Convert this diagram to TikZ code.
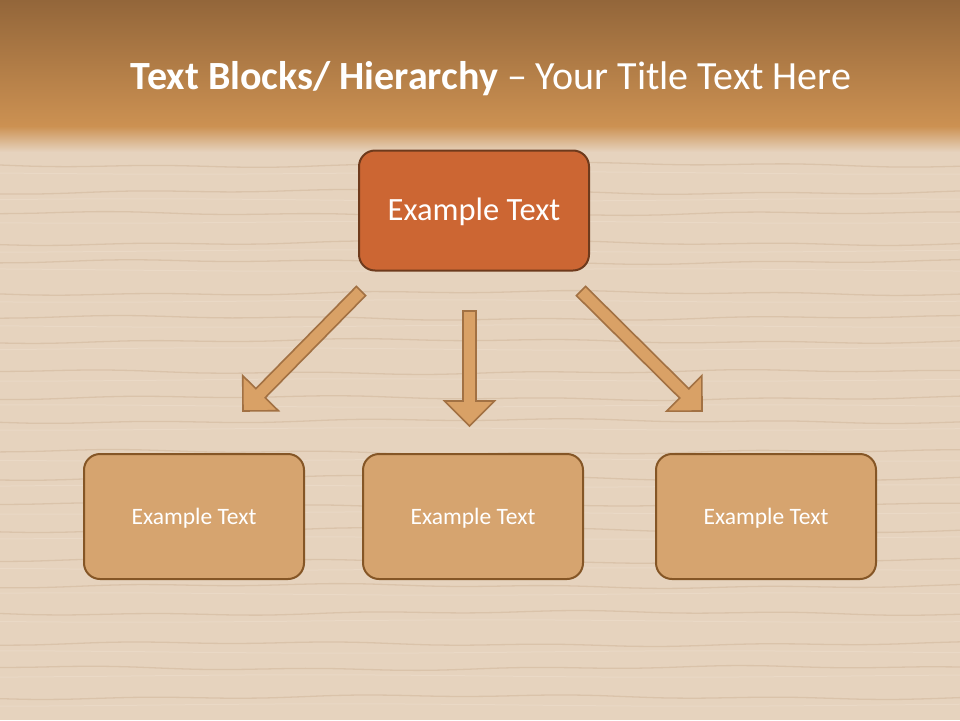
\documentclass[tikz,border=0pt]{standalone}
\usepackage{fontspec}
\setmainfont{Carlito}
\usetikzlibrary{calc}
\definecolor{bgbeige}{HTML}{E6D3BE}
\definecolor{grain}{HTML}{D5BDA2}
\definecolor{grainlight}{HTML}{EEDFCE}
\definecolor{headtop}{HTML}{93663A}
\definecolor{headbot}{HTML}{CC9152}
\definecolor{topfill}{HTML}{CC6633}
\definecolor{topedge}{HTML}{6E3A1C}
\definecolor{boxfill}{HTML}{D6A46F}
\definecolor{boxedge}{HTML}{855626}
\definecolor{arrfill}{HTML}{D9A166}
\definecolor{arredge}{HTML}{A27143}
\tikzset{
  topbox/.style={draw=topedge, line width=2pt, fill=topfill, rounded corners=16pt,
    minimum width=230pt, minimum height=120pt, text=white, font=\fontsize{32.5}{36}\selectfont,
    text height=20.9pt, text depth=0pt},
  lowbox/.style={draw=boxedge, line width=2pt, fill=boxfill, rounded corners=16pt,
    minimum width=220pt, minimum height=125pt, text=white, font=\fontsize{23.5}{28}\selectfont,
    text height=15.1pt, text depth=0pt},
  blockarrow/.style={draw=arredge, line width=1.6pt, fill=arrfill, line join=miter},
  grainline/.style={grain, line width=1.3pt, opacity=0.7},
}
\begin{document}
\begin{tikzpicture}[x=1pt,y=-1pt]
\useasboundingbox (0,0) rectangle (960,720);
% background
\fill[bgbeige] (0,0) rectangle (960,720);
% wood grain
\foreach \yy/\ph in {165/0,192/40,214/80,243/20,262/60,293/10,318/70,341/30,372/90,398/50,421/15,452/75,478/35,505/85,530/25,561/65,586/45,613/5,644/55,668/95,697/20}{
  \draw[grainline] plot[domain=0:960, samples=30, smooth] (\x, {\yy + 1.5*sin(\x*0.45 + \ph*3) + 1*sin(\x*1.7+\ph)});
  \draw[grainlight, line width=1pt, opacity=0.5] plot[domain=0:960, samples=30, smooth] (\x, {\yy + 8 + 1.2*sin(\x*0.5 + \ph*5)});
}
% header band
\shade[top color=headtop, bottom color=headbot] (0,0) rectangle (960,126);
\shade[top color=headbot, bottom color=bgbeige] (0,126) rectangle (960,152);
% title
\node[text=white, font=\fontsize{40}{44}\selectfont, anchor=base] (title) at (491,89)
  {\textbf{Text Blocks/ Hierarchy} – Your Title Text Here};
% boxes
\node[topbox] (top) at (474,210.5) {Example Text};
\node[lowbox] (left) at (194,516.5) {Example Text};
\node[lowbox] (mid) at (473,516.5) {Example Text};
\node[lowbox] (right) at (766,516.5) {Example Text};
% arrow anchor coordinates
\coordinate (lt) at (361,291);
\coordinate (lp) at (243,411);
\coordinate (mt) at (469.5,311);
\coordinate (mp) at (469.5,426);
\coordinate (rt) at (581,291);
\coordinate (rp) at (702,411);
% block arrows
\foreach \T/\P in {lt/lp, mt/mp, rt/rp}{
  \coordinate (H) at ($(\P)!25pt!(\T)$);
  \draw[blockarrow]
    ($(\T)!6.5pt!90:(\P)$) -- ($(H)!6.5pt!90:(\P)$) -- ($(H)!25pt!90:(\P)$) -- (\P)
    -- ($(H)!25pt!-90:(\P)$) -- ($(H)!6.5pt!-90:(\P)$) -- ($(\T)!6.5pt!-90:(\P)$) -- cycle;
}
\end{tikzpicture}
\end{document}
